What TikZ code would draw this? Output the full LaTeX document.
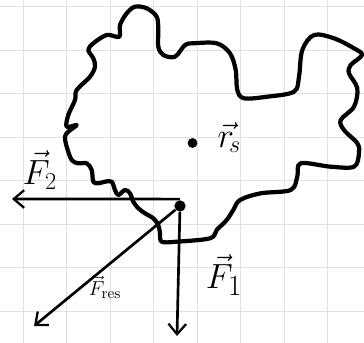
\documentclass[tikz,border=0pt]{standalone}
\usepackage{amsmath}
\usepackage{tikz}
\usetikzlibrary{arrows.meta, positioning}
\tikzset{
  gridline/.style = {draw=black!12, line width=0.6pt},
  body/.style     = {draw=black, line width=3pt, line join=round,
                     smooth cycle, tension=0.55},
  force/.style    = {-{Straight Barb[length=2.6mm, width=4.4mm, line width=1.6pt]},
                     line width=1.9pt},
  lbl/.style      = {inner sep=0pt},
}

\begin{document}
\begin{tikzpicture}[x=0.025cm, y=-0.025cm]
    \useasboundingbox (0,0) rectangle (364,343);

    % square paper
    \foreach \gx in {0,...,7}
        \draw[gridline] (23.3+43.5*\gx,0) -- (23.3+43.5*\gx,343);
    \foreach \gy in {0,...,7}
        \draw[gridline] (0,6.7+43.5*\gy) -- (364,6.7+43.5*\gy);

    % the body
    \draw[body] plot coordinates {
        (119.3,36.7) (120,25) (126.7,13.3) (135,6.7) (146.7,8.3) (156.7,16.7)
        (158.3,30) (158.3,46.7) (163.3,55) (175,56.7) (185,45) (193.3,43.3)
        (216.7,43.3) (230,53.3) (235.7,70) (237.3,90) (244,98.3) (267.3,96.7)
        (294,91.7) (299,76.7) (302.3,50) (314,35) (334,38.3) (354,48.3)
        (362,55) (350.7,65) (349,73.3) (357.3,88.3) (354,106.7) (340.7,120)
        (344,130) (357.3,143.3) (359,153.3) (354,166.7) (330.7,166.7)
        (300.7,163.3) (297.3,176.7) (290.7,190) (260.7,193.3) (240,200)
        (233.3,210) (226.7,220) (216.7,230) (210,238.3) (176.7,241.7)
        (161.7,241.7) (160,233.3) (158.3,225) (153.3,218.3) (145,213.3)
        (138.3,208.3) (133.3,201.7) (130,193.3) (125,190) (118.3,195)
        (115,190) (111.7,181.7) (105,181.7) (98.3,183.3) (93.3,181.7)
        (91.7,170) (86.7,163.3) (78.3,163.3) (71.7,160) (66.7,146.7)
        (65,136.7) (68.3,131.7) (76.7,125) (66.7,126.7) (68.3,115) (75,100)
        (76.7,90) (90,76.7) (95,66.7) (93.3,58.3) (88.3,50) (93.3,43.3)
        (106.7,35)
    };

    % centre of mass and point of attack
    \node[circle, fill, inner sep=0pt, minimum size=7pt] (S) at (192.5,143) {};
    \node[circle, fill, inner sep=0pt, minimum size=8pt] (P) at (180,206) {};
    \node[lbl, right=14pt of S, yshift=4pt, font=\fontsize{24}{24}\selectfont] (rs) {$\vec{r}_{\!s}$};

    \coordinate (F2end) at (12,199);
    \coordinate (F1end) at (177,336);
    \coordinate (Fresend) at (34,326);

    \draw[force] (P.north) ++(0,-1) -- (F2end);
    \draw[force] (P) -- (F1end);
    \draw[force] (P) -- (Fresend);

    \node[lbl, font=\fontsize{26}{26}\selectfont] (F2) at (40,170) {$\vec{F}_2$};
    \node[lbl, font=\fontsize{30}{30}\selectfont] (F1) at (224,275) {$\vec{F}_1$};
    \node[lbl, font=\fontsize{15}{15}\selectfont] (Fres) at (105,287) {$\vec{F}_{\mathrm{res}}$};
\end{tikzpicture}
\end{document}
